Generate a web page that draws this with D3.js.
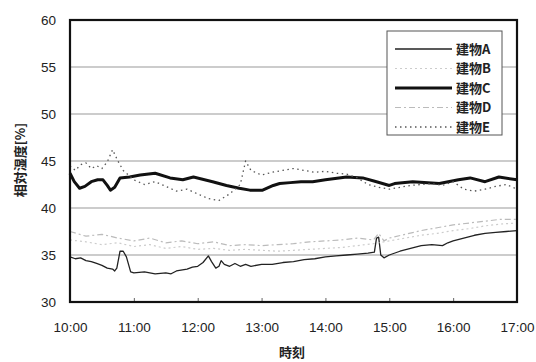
<!DOCTYPE html>
<html>
<head>
<meta charset="utf-8">
<script src="https://cdn.jsdelivr.net/npm/d3@7"></script>
<style>
  body { margin: 0; background: #fff; }
  svg { display: block; }
  text { font-family: "Liberation Sans", Arial, sans-serif; fill: #222; }
  .jp { font-family: "Noto Sans CJK JP", sans-serif; }
</style>
</head>
<body>
<svg id="svg" width="536" height="362"></svg>
<script>
const w = 536;
const h = 362;
const margin = { left: 70, right: 19, top: 20, bottom: 60 };

// minutes after 10:00
const xTicks = [0, 60, 120, 180, 240, 300, 360, 420];
const xTickLabels = ["10:00", "11:00", "12:00", "13:00", "14:00", "15:00", "16:00", "17:00"];
const yTicks = [30, 35, 40, 45, 50, 55, 60];

const names = ["建物A", "建物B", "建物C", "建物D", "建物E"];

const timeA = [0, 5, 10, 15, 20, 25, 30, 35, 40, 42, 44, 47, 50, 53, 57, 60, 70, 80, 90, 95, 100, 110, 115, 120, 125, 130, 133, 137, 140, 142, 145, 150, 155, 160, 165, 170, 180, 190, 200, 210, 220, 230, 240, 250, 260, 270, 280, 286, 288, 290, 292, 295, 300, 310, 320, 330, 340, 350, 355, 360, 370, 380, 390, 400, 410, 420];
const valA = [34.8, 34.6, 34.7, 34.4, 34.3, 34.1, 33.9, 33.6, 33.5, 33.3, 33.6, 35.4, 35.4, 34.8, 33.2, 33.1, 33.2, 33.0, 33.1, 33.0, 33.3, 33.5, 33.7, 33.8, 34.2, 34.9, 34.3, 33.6, 33.8, 34.4, 34.0, 33.8, 34.1, 33.8, 34.0, 33.8, 34.0, 34.0, 34.2, 34.3, 34.5, 34.6, 34.8, 34.9, 35.0, 35.1, 35.2, 35.3, 36.8, 36.9, 35.0, 34.7, 35.0, 35.4, 35.7, 36.0, 36.1, 36.0, 36.3, 36.5, 36.8, 37.1, 37.3, 37.4, 37.5, 37.6];

const timeB = [0, 15, 30, 45, 60, 75, 90, 105, 120, 135, 150, 165, 180, 195, 210, 225, 240, 255, 270, 285, 300, 315, 330, 345, 360, 375, 390, 405, 420];
const valB = [36.6, 36.4, 36.1, 36.3, 35.9, 36.1, 35.7, 35.9, 35.6, 35.7, 35.5, 35.6, 35.5, 35.4, 35.5, 35.6, 35.7, 35.8, 36.0, 36.2, 36.5, 36.8, 37.1, 37.3, 37.6, 37.8, 38.1, 38.3, 38.4];

const timeC = [0, 4, 9, 14, 20, 26, 31, 35, 38, 42, 47, 56, 66, 80, 94, 106, 116, 134, 147, 159, 169, 181, 191, 197, 207, 217, 228, 240, 260, 275, 288, 300, 305, 322, 347, 365, 376, 390, 403, 420];
const valC = [43.7, 42.8, 42.1, 42.3, 42.8, 43.0, 43.0, 42.4, 41.9, 42.2, 43.2, 43.3, 43.5, 43.7, 43.2, 43.0, 43.3, 42.8, 42.4, 42.1, 41.9, 41.9, 42.4, 42.6, 42.7, 42.8, 42.8, 43.0, 43.3, 43.2, 42.8, 42.4, 42.6, 42.8, 42.6, 43.0, 43.2, 42.8, 43.3, 43.0];

const timeD = [0, 15, 30, 45, 60, 75, 90, 105, 120, 135, 150, 165, 180, 195, 210, 225, 240, 255, 270, 285, 290, 295, 300, 315, 330, 345, 360, 375, 390, 405, 420];
const valD = [37.5, 37.0, 37.2, 36.8, 36.5, 36.8, 36.3, 36.5, 36.2, 36.4, 36.0, 36.1, 36.0, 36.1, 36.2, 36.4, 36.5, 36.6, 36.8, 36.6, 37.3, 36.5, 36.8, 37.2, 37.6, 37.9, 38.2, 38.4, 38.6, 38.8, 38.8];

const timeE = [0, 5, 10, 15, 20, 25, 30, 35, 40, 45, 50, 60, 70, 80, 90, 100, 110, 120, 130, 140, 150, 160, 165, 170, 180, 190, 200, 210, 220, 230, 240, 250, 260, 270, 280, 290, 300, 320, 340, 350, 360, 370, 380, 390, 400, 410, 420];
const valE = [44.5, 44.0, 44.6, 44.8, 44.2, 44.5, 44.2, 44.9, 46.2, 45.0, 44.0, 43.0, 42.5, 42.8, 42.3, 41.8, 42.0, 41.5, 41.0, 40.8, 41.5, 42.5, 45.0, 44.0, 43.5, 43.8, 44.0, 44.2, 44.0, 43.8, 43.9, 43.7, 43.6, 43.2, 42.5, 42.2, 42.0, 42.4, 42.6, 42.4, 42.8, 42.0, 41.8, 42.0, 42.3, 42.5, 42.0];

const seriesTimes = [timeA, timeB, timeC, timeD, timeE];
const seriesVals = [valA, valB, valC, valD, valE];

const styles = [
  { stroke: "#222", width: 1.3, dash: null },
  { stroke: "#ccc", width: 1.2, dash: "2,3" },
  { stroke: "#111", width: 3, dash: null },
  { stroke: "#bbb", width: 1.2, dash: "6,3,2,3" },
  { stroke: "#555", width: 1.3, dash: "1.5,3.5" }
];

const svg = d3.select("#svg");

const xScale = d3.scaleLinear([0, 420], [margin.left, w - margin.right]);
const yScale = d3.scaleLinear([30, 60], [h - margin.bottom, margin.top]);

// grid
svg.append("g")
  .selectAll("line")
  .data(yTicks.slice(1, -1))
  .join("line")
  .attr("x1", margin.left)
  .attr("x2", w - margin.right)
  .attr("y1", (d) => yScale(d))
  .attr("y2", (d) => yScale(d))
  .attr("stroke", "#999")
  .attr("stroke-width", 1);

// lines
const lineFunc = d3.line()
  .x((d) => xScale(d[0]))
  .y((d) => yScale(d[1]));

seriesVals.forEach((vals, i) => {
  const pts = vals.map((v, j) => [seriesTimes[i][j], v]);
  svg.append("path")
    .datum(pts)
    .attr("fill", "none")
    .attr("stroke", styles[i].stroke)
    .attr("stroke-width", styles[i].width)
    .attr("stroke-dasharray", styles[i].dash)
    .attr("stroke-linejoin", "round")
    .attr("d", lineFunc);
});

// x axis ticks (inward)
svg.append("g")
  .attr("transform", `translate(0,${h - margin.bottom})`)
  .call(d3.axisBottom(xScale).tickValues(xTicks).tickSize(-4).tickFormat((d, i) => xTickLabels[i]).tickPadding(20))
  .call((g) => g.select(".domain").remove())
  .call((g) => g.selectAll(".tick line").attr("stroke", "#666"))
  .call((g) => g.selectAll("text").attr("font-size", 13.5).attr("fill", "#222").attr("font-family", "Liberation Sans, Arial, sans-serif"));

// y axis labels
svg.append("g")
  .attr("transform", `translate(${margin.left},0)`)
  .call(d3.axisLeft(yScale).tickValues(yTicks).tickSize(0).tickPadding(14))
  .call((g) => g.select(".domain").remove())
  .call((g) => g.selectAll("text").attr("font-size", 13.5).attr("fill", "#222").attr("font-family", "Liberation Sans, Arial, sans-serif"));

// frame
svg.append("rect")
  .attr("x", margin.left)
  .attr("y", margin.top)
  .attr("width", w - margin.left - margin.right)
  .attr("height", h - margin.top - margin.bottom)
  .attr("fill", "none")
  .attr("stroke", "#111")
  .attr("stroke-width", 2.2);

// axis titles
svg.append("text")
  .attr("class", "jp")
  .attr("x", 292)
  .attr("y", 357)
  .attr("text-anchor", "middle")
  .attr("font-size", 13)
  .attr("font-weight", "bold")
  .text("時刻");

svg.append("text")
  .attr("class", "jp")
  .attr("transform", "translate(25,160) rotate(-90)")
  .attr("text-anchor", "middle")
  .attr("font-size", 13)
  .attr("font-weight", "bold")
  .text("相対湿度[%]");

// legend
const lg = svg.append("g");
lg.append("rect")
  .attr("x", 387)
  .attr("y", 31)
  .attr("width", 115)
  .attr("height", 104)
  .attr("fill", "#fff")
  .attr("stroke", "#555")
  .attr("stroke-width", 1);

names.forEach((name, i) => {
  const y = 49 + i * 19.5;
  lg.append("line")
    .attr("x1", 395)
    .attr("x2", 452)
    .attr("y1", y)
    .attr("y2", y)
    .attr("stroke", styles[i].stroke)
    .attr("stroke-width", styles[i].width)
    .attr("stroke-dasharray", styles[i].dash);
  lg.append("text")
    .attr("class", "jp")
    .attr("x", 456)
    .attr("y", y + 4.5)
    .attr("font-size", 13)
    .attr("font-weight", "bold")
    .attr("fill", "#111")
    .text(name);
});
</script>
</body>
</html>
